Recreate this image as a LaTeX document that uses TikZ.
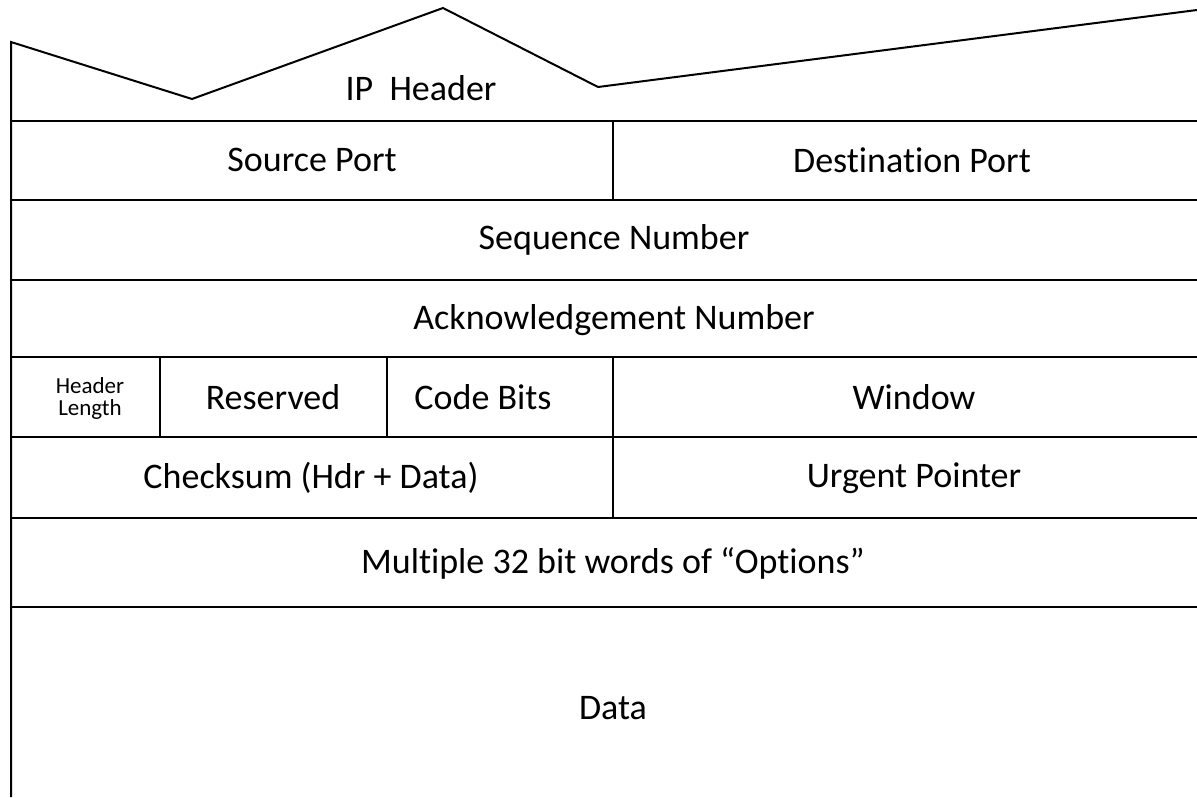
\documentclass[tikz,border=0pt]{standalone}
\usepackage{fontspec}
\setmainfont[Ligatures=NoCommon]{Carlito}

\begin{document}
\begin{tikzpicture}[x=0.5pt,y=-0.5pt,line width=1pt,
    lbl/.style={font=\fontsize{18}{21}\selectfont},
    smalllbl/.style={font=\fontsize{11.5}{11}\selectfont,align=center}]
        \useasboundingbox (0,0) rectangle (1197,797);
        % left side and torn top edge
        \draw (11,797)--(11,42)--(192,99)--(443,8)--(598,87)--(1197,10);
        % row lines
        \foreach \y in {121,200,280,357,437,518,607}
            \draw (11,\y)--(1197,\y);
        % column lines
        \draw (613,121)--(613,200);
        \draw (160,357)--(160,437) (387,357)--(387,437);
        \draw (613,357)--(613,518);
        % fields
        \node[lbl] (iphdr) at (421,88) {IP\ \ Header};
        \node[lbl] (srcport) at (312,160) {Source Port};
        \node[lbl] (dstport) at (912,160) {Destination Port};
        \node[lbl] (seqnum) at (614,240) {Sequence Number};
        \node[lbl] (acknum) at (614,320) {Acknowledgement Number};
        \node[smalllbl] (hdrlen) at (90,398) {Header\\Length};
        \node[lbl] (reserved) at (273,397) {Reserved};
        \node[lbl] (codebits) at (483,397) {Code Bits};
        \node[lbl] (window) at (914,397) {Window};
        \node[lbl] (checksum) at (311,478) {Checksum (Hdr + Data)};
        \node[lbl] (urgent) at (914,478) {Urgent Pointer};
        \node[lbl] (options) at (613,563) {Multiple 32 bit words of “Options”};
        \node[lbl] (data) at (613,708) {Data};
    \end{tikzpicture}
\end{document}
